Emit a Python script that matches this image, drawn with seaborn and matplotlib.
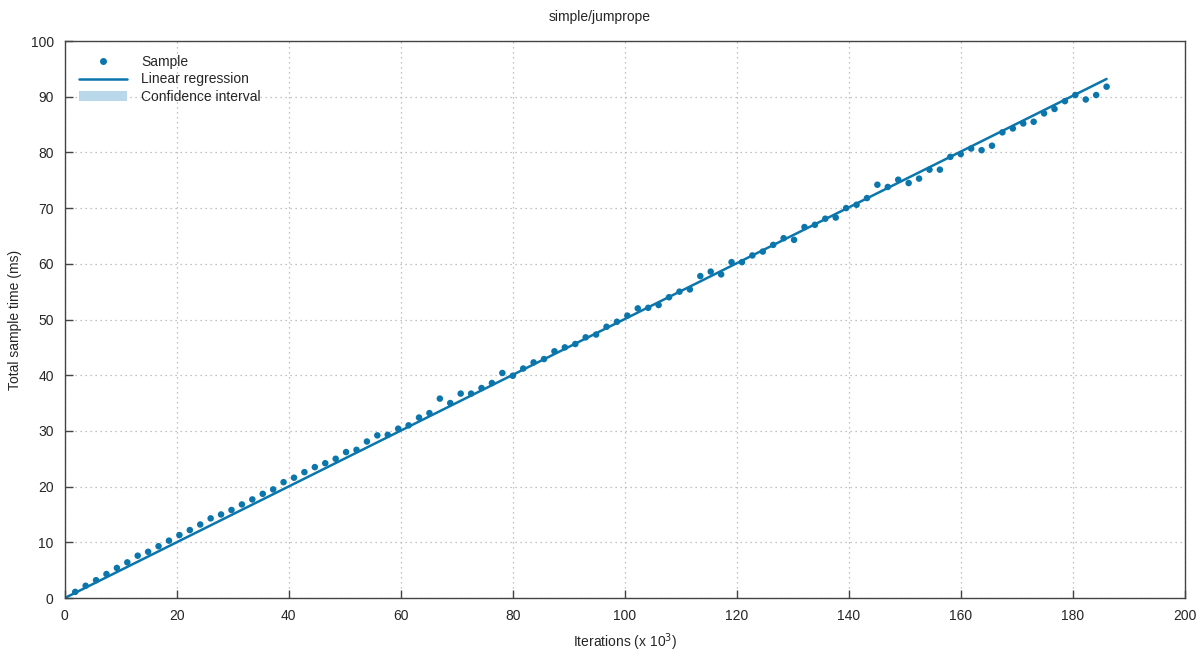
import numpy as np
import pandas as pd
import matplotlib
matplotlib.use("Agg")
import matplotlib.pyplot as plt
from matplotlib.lines import Line2D
from matplotlib.patches import Patch
import seaborn as sns

# Data (iterations in thousands, time in ms)
iterations = [1.86 * k for k in range(1, 101)]
sample_ms = [
    1.1, 2.2, 3.2, 4.3, 5.4, 6.4, 7.6, 8.3, 9.3, 10.3,
    11.3, 12.2, 13.2, 14.3, 15.0, 15.8, 16.8, 17.7, 18.7, 19.5,
    20.8, 21.6, 22.6, 23.5, 24.2, 25.0, 26.2, 26.6, 28.1, 29.2,
    29.3, 30.4, 31.0, 32.4, 33.2, 35.8, 35.0, 36.7, 36.7, 37.7,
    38.6, 40.4, 39.9, 41.2, 42.3, 42.9, 44.3, 45.0, 45.6, 46.8,
    47.3, 48.7, 49.6, 50.7, 52.0, 52.1, 52.6, 54.0, 55.0, 55.4,
    57.8, 58.6, 58.1, 60.3, 60.3, 61.5, 62.2, 63.4, 64.6, 64.3,
    66.6, 67.0, 68.1, 68.3, 70.0, 70.6, 71.8, 74.2, 73.8, 75.1,
    74.5, 75.3, 76.9, 76.9, 79.2, 79.7, 80.7, 80.4, 81.2, 83.6,
    84.3, 85.2, 85.5, 87.0, 87.8, 89.2, 90.3, 89.5, 90.3, 91.8,
]
reg_x = [0.0, 186.0]
reg_slope = 0.501

DARK_BLUE = '#0b76ac'
LIGHT_BLUE = '#b9d9ea'

sns.set_theme(style="white")
plt.rcParams['font.family'] = ['Liberation Sans', 'DejaVu Sans']

df = pd.DataFrame({'x': iterations, 'y': sample_ms})
df_reg = pd.DataFrame({'x': reg_x, 'y': [reg_slope * v for v in reg_x]})

fig = plt.figure(figsize=(12, 6.54), dpi=100)
ax = fig.add_axes([0.054, 0.0856, 0.9335, 0.8517])

sns.lineplot(data=df_reg, x='x', y='y', ax=ax, color=DARK_BLUE, linewidth=1.8)
sns.scatterplot(data=df, x='x', y='y', ax=ax, color=DARK_BLUE, s=22,
                edgecolor='none', zorder=3)

ax.set_xlim(0, 200)
ax.set_ylim(0, 100)
ax.set_xticks(range(0, 201, 20))
ax.set_yticks(range(0, 101, 10))
ax.grid(True, color='#b0b0b0', linestyle=(0, (1, 3)), linewidth=0.9)
ax.tick_params(direction='in', length=6, width=1, color='#444444',
               labelsize=10, pad=8, left=True, bottom=True)
for s in ax.spines.values():
    s.set_color('#444444')
    s.set_linewidth(1)

ax.set_xlabel('Iterations (x 10$^3$)', fontsize=10, labelpad=6)
ax.set_ylabel('Total sample time (ms)', fontsize=10, labelpad=6)
fig.suptitle('simple/jumprope', fontsize=10, y=0.985)

handles = [
    Line2D([], [], marker='o', linestyle='none', color=DARK_BLUE, markersize=4),
    Line2D([], [], color=DARK_BLUE, linewidth=1.8),
    Patch(facecolor=LIGHT_BLUE, edgecolor='none'),
]
ax.legend(handles, ['Sample', 'Linear regression', 'Confidence interval'],
          loc='upper left', frameon=False, fontsize=10, handlelength=3.5,
          handleheight=0.7, labelspacing=0.25, borderaxespad=0.6,
          handletextpad=1.0)

fig.savefig('out.png', dpi=100)
